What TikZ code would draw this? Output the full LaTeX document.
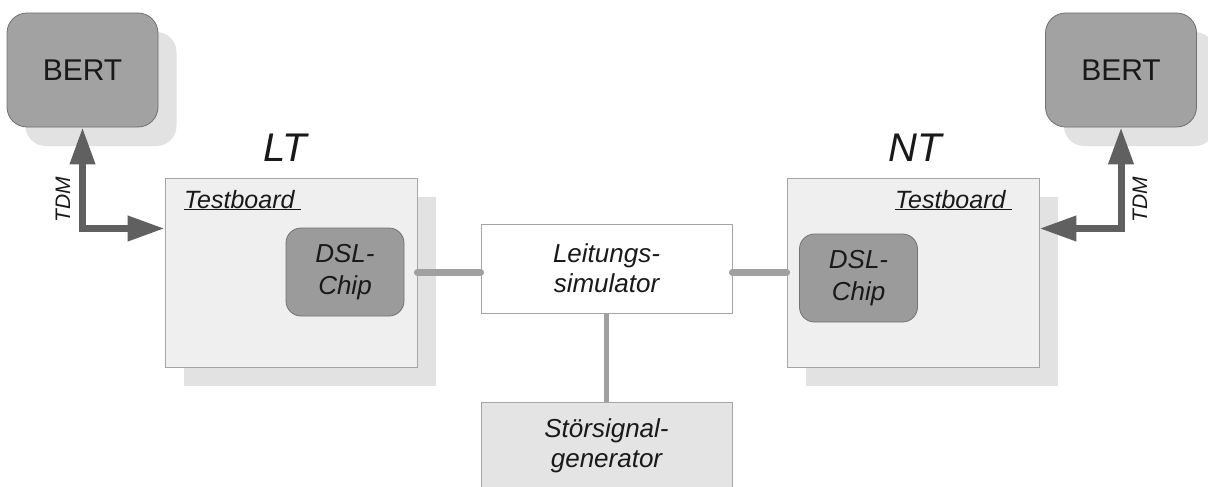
\documentclass[tikz,border=0pt]{standalone}
\usepackage{fontspec}
\setmainfont{Liberation Sans}
\usepackage{tikz}
\usetikzlibrary{arrows.meta,positioning,shadows}
\usepackage{xcolor}
\definecolor{bertfill}{RGB}{162,162,162}
\definecolor{bertdraw}{RGB}{112,112,112}
\definecolor{shadowgrey}{RGB}{226,226,226}
\definecolor{boardfill}{RGB}{239,239,239}
\definecolor{boarddraw}{RGB}{165,165,165}
\definecolor{chipfill}{RGB}{155,155,155}
\definecolor{chipdraw}{RGB}{115,115,115}
\definecolor{tdmcol}{RGB}{96,96,96}
\definecolor{linkcol}{RGB}{160,160,160}
\definecolor{genfill}{RGB}{228,228,228}
\definecolor{inkcol}{RGB}{25,25,25}
\tikzset{
  shade box/.style={drop shadow={shadow xshift=18.5pt,shadow yshift=-19pt,
                    fill=shadowgrey,opacity=1}},
  bert/.style={shade box,rounded corners=20pt,draw=bertdraw,fill=bertfill,
               line width=.8pt,minimum width=151pt,minimum height=114pt,
               text=inkcol,font=\fontsize{30}{36}\selectfont},
  board/.style={shade box,draw=boarddraw,fill=boardfill,line width=.8pt,
                minimum width=252pt,minimum height=189pt},
  chip/.style={rounded corners=15pt,draw=chipdraw,fill=chipfill,line width=.8pt,
               minimum width=118pt,minimum height=88pt,align=center,text=inkcol,
               font=\fontsize{26}{32}\selectfont\itshape},
  unit/.style={draw=boarddraw,line width=.8pt,minimum width=251pt,minimum height=89pt,
               align=center,text=inkcol,font=\fontsize{26}{30}\selectfont\itshape},
  side/.style={text=inkcol,font=\fontsize{40}{40}\selectfont\itshape},
  boardtag/.style={anchor=base west,inner sep=0pt,text=inkcol,
                   font=\fontsize{25}{25}\selectfont\itshape},
  tdmtag/.style={rotate=90,text=inkcol,font=\fontsize{21}{21}\selectfont\itshape},
  tdm/.style={{Triangle[length=37pt,width=24pt]}-{Triangle[length=37pt,width=24pt]},
              draw=tdmcol,line width=7pt},
  link/.style={draw=linkcol,line width=7pt,line cap=round},
}
\begin{document}
\begin{tikzpicture}[x=1pt,y=-1pt]
  \clip (0,0) rectangle (1208,487);
  % instruments
  \node[bert] (bertL) at (82.5,70) {BERT};
  \node[bert] (bertR) at (1121,70) {BERT};
  % test boards
  \node[board] (tbL) at (291,272.5) {};
  \node[board] (tbR) at (913,272.5) {};
  \node[side] (lt) at (285,148) {LT};
  \node[side] (nt) at (915,148) {NT};
  \node[boardtag] (tagL) at (184,208) {\underline{Testboard\ }};
  \node[boardtag] (tagR) at (895,208) {\underline{Testboard\ }};
  \node[chip] (chipL) at (345,272) {DSL-\\Chip};
  \node[chip] (chipR) at (858.5,278) {DSL-\\Chip};
  % channel
  \node[unit,fill=white] (sim) at (606.5,268.5) {Leitungs-\\simulator};
  \node[unit,fill=genfill,minimum height=88pt] (gen) at (606.5,446) {Störsignal-\\generator};
  \draw[link] (tbL.east) -- (tbL.east -| sim.west);
  \draw[link] (sim.east |- tbR.west) -- (tbR.west);
  \draw[link,line width=4.5pt,line cap=butt] (sim.south) -- (gen.north);
  % TDM
  \draw[tdm] (bertL.south) |- ([yshift=44pt]tbL.west);
  \draw[tdm] (bertR.south) |- ([yshift=44pt]tbR.east);
  \node[tdmtag] (tdmL) at (63,200) {TDM};
  \node[tdmtag] (tdmR) at (1140,200) {TDM};
\end{tikzpicture}
\end{document}
